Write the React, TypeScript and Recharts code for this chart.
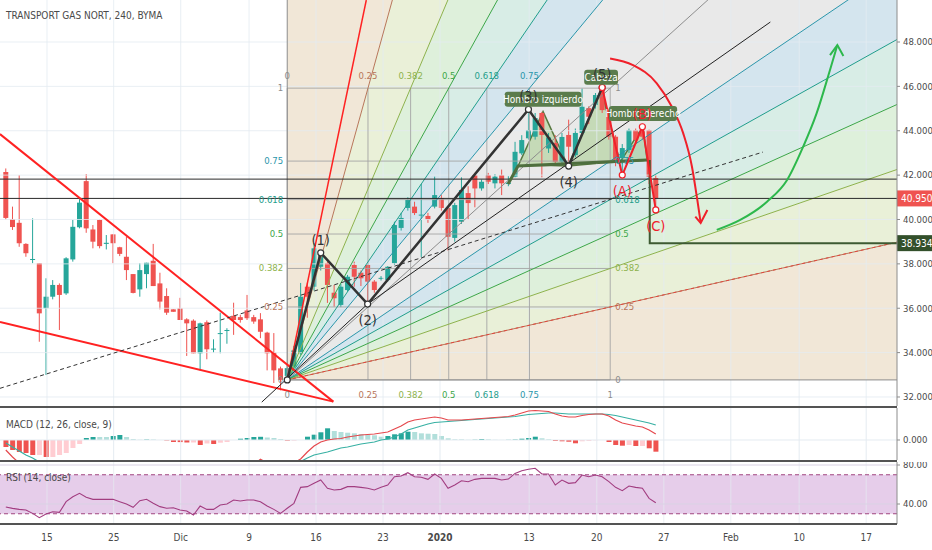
import React from "react";
import {
  ComposedChart,
  XAxis,
  YAxis,
  Bar,
  Line,
  Area,
  Scatter,
  ReferenceLine,
  ReferenceArea,
  Cell,
} from "recharts";

// velas de 4h, índice de barra 0..97
const OPEN = [
  42.14, 40.02, 39.85, 38.9, 38.18, 38.03, 36.0, 36.52, 37.05, 36.67,
  38.2, 39.65, 41.73, 39.55, 39.98, 38.9, 39.33, 38.75, 38.32, 37.54,
  36.85, 37.54, 38.14, 37.12, 36.55, 35.95, 36.0, 35.5, 35.44, 33.97,
  35.37, 34.15, 34.85, 35.0, 35.66, 35.6, 35.9, 35.6, 35.5, 34.9,
  34.0, 33.29, 32.95, 33.37, 33.97, 36.97, 36.97, 37.87, 38.03, 36.7,
  36.15, 36.82, 37.95, 37.6, 37.95, 37.2, 37.33, 37.27, 38.03, 39.62,
  40.52, 40.58, 40.18, 40.16, 40.58, 40.97, 40.52, 39.17, 39.9, 41.19,
  42.0, 41.4, 42.0, 41.63, 42.0, 41.6, 41.93, 42.98, 43.66, 43.73,
  44.8, 43.2, 43.45, 42.6, 43.81, 42.9, 43.9, 45.02, 45.16, 45.83,
  44.93, 43.73, 42.77, 43.13, 44.03, 44.03, 44.03, 41.87,
];
const HIGH = [
  42.3, 40.58, 42.0, 38.93, 40.05, 38.03, 37.35, 37.27, 37.12, 38.3,
  39.98, 40.92, 42.05, 39.75, 40.0, 39.3, 39.33, 38.77, 39.22, 37.54,
  38.03, 38.05, 38.9, 37.6, 36.9, 35.95, 36.47, 35.55, 35.5, 35.35,
  35.45, 34.6, 35.8, 35.1, 36.25, 35.7, 36.6, 35.7, 35.78, 34.94,
  34.88, 33.37, 33.5, 34.3, 37.14, 37.14, 38.94, 38.5, 38.1, 37.05,
  37.1, 37.5, 38.1, 37.7, 37.95, 37.27, 37.45, 37.9, 39.9, 40.3,
  41.0, 40.8, 41.6, 40.3, 41.93, 41.1, 40.55, 40.75, 41.9, 41.5,
  42.1, 41.8, 42.1, 42.05, 42.25, 41.95, 43.5, 43.8, 44.96, 44.8,
  44.85, 43.9, 43.8, 43.9, 44.5, 44.1, 45.9, 45.1, 45.7, 45.95,
  45.0, 43.8, 43.4, 44.1, 44.1, 44.18, 44.05, 42.0,
];
const LOW = [
  40.0, 39.53, 38.77, 38.32, 38.03, 34.49, 32.99, 36.4, 35.02, 36.6,
  38.1, 39.6, 39.4, 38.7, 38.7, 38.65, 38.03, 38.35, 37.27, 36.67,
  36.52, 36.9, 37.0, 35.95, 35.7, 35.84, 35.47, 33.85, 33.97, 33.2,
  33.7, 34.0, 33.97, 34.4, 34.8, 35.35, 35.47, 35.3, 34.65, 33.2,
  32.63, 32.3, 32.77, 33.3, 33.9, 35.57, 36.8, 37.7, 36.24, 36.07,
  36.05, 36.75, 36.97, 37.0, 36.19, 36.7, 37.25, 37.2, 37.95, 39.5,
  40.4, 40.2, 38.3, 39.85, 40.5, 40.4, 38.6, 39.0, 39.8, 40.0,
  40.55, 41.3, 41.6, 41.4, 41.1, 41.5, 41.9, 42.9, 43.6, 43.6,
  41.9, 43.0, 42.5, 42.5, 42.41, 42.8, 43.8, 44.3, 45.0, 44.8,
  43.6, 42.4, 42.0, 43.0, 43.4, 43.6, 41.6, 40.43,
];
const CLOSE = [
  40.07, 39.66, 38.93, 38.48, 38.22, 35.77, 36.52, 37.05, 36.6, 38.25,
  39.67, 40.76, 39.6, 39.0, 38.8, 38.95, 38.93, 38.45, 37.72, 36.69,
  37.72, 38.05, 37.0, 36.3, 35.8, 35.84, 35.47, 35.32, 33.97, 35.32,
  34.15, 34.18, 34.88, 35.02, 35.47, 35.47, 35.55, 35.4, 34.94, 33.97,
  33.2, 32.77, 33.3, 34.1, 36.52, 36.52, 38.7, 38.4, 37.05, 36.45,
  36.97, 37.42, 37.42, 37.35, 37.2, 36.82, 37.37, 37.87, 39.75, 40.07,
  40.88, 40.29, 40.22, 40.0, 41.1, 40.52, 39.22, 40.65, 41.33, 40.74,
  41.4, 41.7, 41.7, 41.93, 41.63, 41.66, 43.05, 43.58, 44.03, 44.57,
  43.81, 43.7, 42.6, 43.72, 43.28, 43.9, 45.08, 44.63, 45.61, 44.93,
  43.73, 42.68, 43.22, 44.03, 43.58, 43.73, 41.93, 40.95,
];

// MACD (12, 26, close, 9)
const MACD_LINE = [
  -0.333, -0.567, -0.767, -0.933, -1.1, -1.233, -1.367, -1.467, -1.533, -1.567,
  -1.533, -1.467, -1.4, -1.333, -1.267, -1.2, -1.133, -1.067, -1.033, -1.033,
  -1.033, -1.033, -1.033, -1.067, -1.1, -1.133, -1.167, -1.2, -1.233, -1.3,
  -1.3, -1.3, -1.267, -1.233, -1.167, -1.1, -1.0, -0.833, -0.64, -0.767,
  -0.8, -0.833, -0.833, -0.767, -0.633, -0.4, -0.2, -0.067, 0, 0.033,
  0.05, 0.1, 0.133, 0.167, 0.183, 0.2, 0.233, 0.267, 0.367, 0.467,
  0.6, 0.667, 0.7, 0.733, 0.767, 0.733, 0.667, 0.667, 0.667, 0.683,
  0.7, 0.717, 0.733, 0.75, 0.767, 0.783, 0.833, 0.9, 0.967, 0.983,
  0.967, 0.95, 0.867, 0.8, 0.767, 0.767, 0.817, 0.85, 0.867, 0.867,
  0.8, 0.667, 0.567, 0.517, 0.467, 0.433, 0.333, 0.2,
];
const MACD_SIGNAL = [
  -0.1, -0.233, -0.367, -0.5, -0.6, -0.733, -0.8, -0.9, -1.033, -1.133,
  -1.267, -1.333, -1.467, -1.433, -1.367, -1.3, -1.267, -1.233, -1.133, -1.067,
  -1.033, -1.033, -1.033, -1.067, -1.067, -1.067, -1.1, -1.117, -1.15, -1.133,
  -1.183, -1.167, -1.177, -1.167, -1.167, -1.143, -1.067, -0.967, -0.833, -0.85,
  -0.867, -0.867, -0.81, -0.743, -0.717, -0.6, -0.5, -0.45, -0.4, -0.333,
  -0.267, -0.233, -0.183, -0.133, -0.1, -0.067, 0, 0.033, 0.1, 0.2,
  0.333, 0.4, 0.467, 0.533, 0.583, 0.6, 0.617, 0.633, 0.65, 0.667,
  0.683, 0.7, 0.717, 0.733, 0.75, 0.767, 0.783, 0.817, 0.85, 0.867,
  0.883, 0.9, 0.9, 0.883, 0.867, 0.867, 0.867, 0.867, 0.867, 0.867,
  0.85, 0.817, 0.767, 0.717, 0.667, 0.617, 0.567, 0.5,
];
const MACD_HIST = [
  -0.233, -0.333, -0.4, -0.433, -0.5, -0.5, -0.567, -0.567, -0.5, -0.433,
  -0.267, -0.133, 0.067, 0.1, 0.1, 0.1, 0.133, 0.167, 0.1, 0.033,
  0.01, 0.017, 0.017, 0, -0.017, -0.067, -0.07, -0.083, -0.083, -0.167,
  -0.117, -0.133, -0.09, -0.067, 0, 0.043, 0.067, 0.1, 0.107, 0.083,
  0.067, 0.033, -0.023, -0.023, 0, 0.11, 0.177, 0.257, 0.39, 0.3,
  0.267, 0.243, 0.223, 0.2, 0.177, 0.157, 0.11, 0.133, 0.19, 0.223,
  0.277, 0.267, 0.223, 0.21, 0.2, 0.133, 0.057, 0.023, 0.023, 0.007,
  0.01, 0.033, 0.023, 0.007, 0.003, 0.007, 0.017, 0.043, 0.067, 0.11,
  0.057, 0.023, -0.033, -0.043, -0.057, -0.11, -0.043, -0.033, -0.01, 0,
  -0.067, -0.167, -0.19, -0.167, -0.2, -0.2, -0.277, -0.39,
];

// RSI (14, close)
const RSI = [
  37, 35.5, 34.5, 33.8, 30.4, 26, 29.7, 32, 31.4, 42.4,
  47.5, 51, 46.9, 44.8, 44.8, 44.8, 44.8, 42.4, 40, 36.6,
  43.4, 44.8, 40.7, 37.3, 35.6, 36.2, 33.8, 32.8, 28.7, 37.9,
  34.5, 34.5, 39, 40, 44.1, 43.1, 44.1, 44.1, 42.4, 37.9,
  34.5, 30.4, 35.6, 40.7, 57.1, 57.8, 61.2, 64.6, 56.1, 54.4,
  55, 57.8, 57.8, 57.1, 56.1, 54.4, 57.1, 59.5, 68, 68.7,
  72.1, 68, 67.4, 65.3, 70.8, 66.3, 56.1, 59.5, 63.9, 62.9,
  65.3, 66.3, 66.3, 66.3, 64.6, 65.6, 71.4, 74.2, 75.6, 76.6,
  70.8, 70.8, 59.5, 64.6, 61.2, 61.9, 69.7, 68, 69.7, 68,
  62.9, 57.1, 53.7, 58.5, 57.1, 56.1, 45.8, 41.3,
];

// eje temporal (posición en barras) y etiquetas
const TIME_TICKS = [6.15, 16.1, 26.1, 36.3, 46.3, 56.3, 64.8, 78.1, 88.2, 98.2, 108.2, 118.4, 128.4];
const TIME_LABELS = ["15", "25", "Dic", "9", "16", "23", "2020", "13", "20", "27", "Feb", "10", "17"];
const PRICE_TICKS = [32, 34, 36, 38, 40, 42, 44, 46, 48];
const MACD_TICKS = [0];
const RSI_TICKS = [40, 80];

// niveles horizontales
const RESISTANCE = 41.82;
const LAST_PRICE = 40.95;
const TARGET = 38.934;

// abanico de velocidad Fibonacci: origen y esquina (barra, precio)
const FAN_ORIGIN = [42, 32.77];
const FAN_CORNER = [90.2, 45.92];
const FAN_LEVELS = [0, 0.25, 0.382, 0.5, 0.618, 0.75, 1];

// ondas de Elliott
const WAVE_BARS = [42, 47, 54, 78, 84, 89];
const WAVE_PRICES = [32.77, 38.5, 36.19, 44.96, 42.41, 45.95];
const WAVE_NAMES = ["", "(1)", "(2)", "(3)", "(4)", "(5)"];
const ABC_BARS = [89, 92, 95, 97];
const ABC_PRICES = [45.95, 42.0, 44.18, 40.43];
const ABC_NAMES = ["", "(A)", "(B)", "(C)"];

// hombro-cabeza-hombro
const HS_BARS = [76.45, 80.18, 83.9, 88.84, 91.67, 95.1, 95.7];
const HS_TOPS = [42.41, 44.86, 42.41, 45.85, 42.59, 44.21, 42.68];
const HS_NECK = [42.41, 42.45, 42.41, 42.55, 42.59, 42.66, 42.68];
const HS_NAMES = ["", "Hombro izquierdo", "", "Cabeza", "", "Hombro derecho", ""];
const NECK_BARS = [74.96, 76.45, 95.7];
const NECK_PRICES = [41.6, 42.41, 42.68];
const TARGET_BARS = [96.1, 96.1, 140];
const TARGET_PRICES = [42.68, 38.934, 38.934];

// líneas de tendencia
const WEDGE_TOP_BARS = [-0.87, 48.88];
const WEDGE_TOP_PRICES = [43.85, 31.79];
const WEDGE_LOW_BARS = [-0.87, 48.88];
const WEDGE_LOW_PRICES = [35.38, 31.79];
const STEEP_BARS = [42, 53.8];
const STEEP_PRICES = [32.77, 49.89];
const DASHED_BARS = [-0.87, 113.0];
const DASHED_PRICES = [32.39, 43.04];
const CHANNEL_BARS = [38.2, 54, 114.1];
const CHANNEL_PRICES = [31.77, 36.19, 48.9];

// flechas curvas
const DOWN_ARC_BARS = [90.18, 93.6, 97.15, 99.4, 101.1, 102.4, 103.2, 103.7];
const DOWN_ARC_PRICES = [47.26, 46.96, 46.14, 45.08, 43.88, 42.38, 40.88, 39.86];
const DOWN_HEAD_BARS = [102.9, 103.7, 104.7];
const DOWN_HEAD_PRICES = [40.13, 39.84, 40.43];
const UP_ARC_BARS = [106.1, 109.6, 113.6, 116.6, 119.0, 121.0, 123.0, 124.1];
const UP_ARC_PRICES = [39.53, 39.98, 40.8, 41.78, 43.28, 44.78, 46.74, 47.86];
const UP_HEAD_BARS = [123.0, 124.1, 125.0];
const UP_HEAD_PRICES = [47.41, 47.86, 47.37];

// ---- estilo ----
const FONT = "'Liberation Sans Narrow', 'Arial Narrow', 'DejaVu Sans Condensed', 'Liberation Sans', sans-serif";
const UP = "#26a69a";
const DOWN = "#ef5350";
const GRID = "#e4ebf1";
const AXIS = "#8c8c8c";
const TEXT = "#4a4a4a";
const X_DOMAIN: [number, number] = [-0.866, 133.0];
const LEVEL_COLORS = ["#8c8c8c", "#b8765a", "#8db24c", "#3ca648", "#1f9d8b", "#2a95aa", "#8c8c8c"];
const BAND_COLORS = [
  "#f1e7d7", "#eaf0d8", "#def0db", "#d8ede6", "#d4e5ee", "#eaeaea",
  "#e9e9e9", "#d4e5ee", "#d8ede6", "#def0db", "#e9f0d8", "#f1e7d7",
];
const FAR = 260;
const SKY = 1000;

const pts = (bars: number[], prices: number[]) => bars.map((i, k) => ({ i, v: prices[k] }));

const candles = OPEN.map((o, i) => ({ i, o, h: HIGH[i], l: LOW[i], c: CLOSE[i], range: [LOW[i], HIGH[i]] }));
const macdRows = MACD_LINE.map((m, i) => ({ i, macd: m, sig: MACD_SIGNAL[i], hist: MACD_HIST[i] }));
const rsiRows = RSI.map((r, i) => ({ i, rsi: r }));

// geometría del abanico
const [F_I0, F_P0] = FAN_ORIGIN;
const [F_I1, F_P1] = FAN_CORNER;
const dI = F_I1 - F_I0;
const dP = F_P1 - F_P0;
const timeRayFar = (t: number) => (t === 0 ? SKY : F_P0 + (dP * (FAR - F_I0)) / (t * dI));
const priceRayFar = (q: number) => F_P0 + (q * dP * (FAR - F_I0)) / dI;
const bounds = [
  ...FAN_LEVELS.slice(0, 6).map((t, k) => ({ far: timeRayFar(t), color: LEVEL_COLORS[k], vertical: t === 0 })),
  { far: priceRayFar(1), color: LEVEL_COLORS[6], vertical: false },
  ...FAN_LEVELS.slice(0, 6)
    .map((q, k) => ({ far: priceRayFar(q), color: LEVEL_COLORS[k], vertical: false }))
    .reverse(),
];
const bands = bounds.slice(0, -1).map((upper, k) => [
  { i: F_I0, r: [F_P0, upper.vertical ? SKY : F_P0] },
  { i: FAR, r: [bounds[k + 1].far, upper.far] },
]);

// la etiqueta superior "1" queda tapada por el rótulo "Cabeza" en el original
const fanLabels = [
  ...FAN_LEVELS.slice(0, 6).map((t, k) => ({ i: F_I0 + t * dI, v: F_P1, text: String(t), color: LEVEL_COLORS[k], kind: "top" })),
  ...FAN_LEVELS.map((t, k) => ({ i: F_I0 + t * dI, v: F_P0, text: String(t), color: LEVEL_COLORS[k], kind: "bottom" })),
  ...FAN_LEVELS.map((q, k) => ({ i: F_I0, v: F_P0 + q * dP, text: String(q), color: LEVEL_COLORS[k], kind: "left" })),
  ...FAN_LEVELS.map((q, k) => ({ i: F_I1, v: F_P0 + q * dP, text: String(q), color: LEVEL_COLORS[k], kind: "right" })),
];
const waveLabels = [
  ...WAVE_BARS.map((i, k) => ({
    i, v: WAVE_PRICES[k], text: WAVE_NAMES[k], color: "#333",
    kind: k > 0 && WAVE_PRICES[k] > WAVE_PRICES[k - 1] ? "up" : "down",
  })),
  ...ABC_BARS.map((i, k) => ({
    i, v: ABC_PRICES[k], text: ABC_NAMES[k], color: "#f0202a",
    kind: k > 0 && ABC_PRICES[k] > ABC_PRICES[k - 1] ? "up" : "down",
  })),
].filter((d) => d.text);
const hsLabels = HS_BARS.map((i, k) => ({ i, v: HS_TOPS[k], text: HS_NAMES[k], color: "#fff", kind: "box" })).filter(
  (d) => d.text
);
const hsArea = HS_BARS.map((i, k) => ({ i, r: [HS_NECK[k], HS_TOPS[k]] }));

const Candle = (props: any) => {
  const { x, y, width, height, payload } = props;
  if (x == null || y == null || !payload) return null;
  const cx = x + width / 2;
  const top = Math.min(y, y + height);
  const span = Math.abs(height);
  const { o, h, l, c } = payload;
  const color = c >= o ? UP : DOWN;
  const k = h > l ? span / (h - l) : 0;
  const yOf = (v: number) => top + (h - v) * k;
  const bTop = yOf(Math.max(o, c));
  const bBot = yOf(Math.min(o, c));
  return (
    <g>
      <line x1={cx} x2={cx} y1={top} y2={top + span} stroke={color} strokeWidth={1} />
      <rect x={cx - 2.5} y={bTop} width={5} height={Math.max(1, bBot - bTop)} fill={color} />
    </g>
  );
};

const TextMark = (props: any) => {
  const { cx, cy, payload } = props;
  if (cx == null || cy == null || !payload) return null;
  const { text, color, kind } = payload;
  if (kind === "box") {
    const w = text.length * 4.3 + 8;
    return (
      <g>
        <rect x={cx - w / 2} y={cy - 20} width={w} height={15} rx={3} fill="#5a7c4c" />
        <text x={cx} y={cy - 9} textAnchor="middle" fontSize={10} fill={color}>
          {text}
        </text>
      </g>
    );
  }
  if (kind === "up" || kind === "down") {
    return (
      <text x={cx} y={kind === "up" ? cy - 8 : cy + 21} textAnchor="middle" fontSize={14.5} fill={color}>
        {text}
      </text>
    );
  }
  const pos: Record<string, [number, number, string]> = {
    top: [0, -9, "middle"],
    bottom: [0, 18, "middle"],
    left: [-4, 3, "end"],
    right: [5, 3, "start"],
  };
  const [dx, dy, anchor] = pos[kind];
  return (
    <text x={cx + dx} y={cy + dy} textAnchor={anchor as any} fontSize={9.5} fill={color}>
      {text}
    </text>
  );
};

const PriceTag = (props: any) => {
  const { viewBox, text, bg } = props;
  if (!viewBox) return null;
  const x = viewBox.x + viewBox.width;
  const y = viewBox.y;
  return (
    <g>
      <rect x={x} y={y - 8} width={35} height={16} fill={bg} />
      <text x={x + 4} y={y + 3.5} fontSize={10} fill="#fff">
        {text}
      </text>
    </g>
  );
};

const TimeTick = (props: any) => {
  const { x, y, payload } = props;
  const label = TIME_LABELS[TIME_TICKS.indexOf(payload.value)] ?? "";
  return (
    <text x={x} y={y + 9} textAnchor="middle" fontSize={10} fill={TEXT} fontWeight={label === "2020" ? 700 : 400}>
      {label}
    </text>
  );
};

const seg = (key: string, data: any[], stroke: string, width = 1, extra: any = {}) => (
  <Line
    key={key}
    data={data}
    dataKey="v"
    type="linear"
    stroke={stroke}
    strokeWidth={width}
    dot={false}
    activeDot={false}
    isAnimationActive={false}
    legendType="none"
    {...extra}
  />
);

const rightAxis = (domain: [number, number], ticks: number[], digits: number) => (
  <YAxis
    orientation="right"
    type="number"
    domain={domain}
    allowDataOverflow
    ticks={ticks}
    interval={0}
    width={35}
    tickFormatter={(v: number) => v.toFixed(digits)}
    tick={{ fill: TEXT, fontSize: 9.5 }}
    tickSize={3}
    tickMargin={3}
    tickLine={{ stroke: AXIS }}
    axisLine={{ stroke: AXIS }}
  />
);

function MainPane() {
  return (
    <ComposedChart width={932} height={406} data={candles} margin={{ top: 0, right: 0, bottom: 0, left: 0 }}>
      <XAxis dataKey="i" type="number" domain={X_DOMAIN} allowDataOverflow hide />
      {rightAxis([31.594, 49.893], PRICE_TICKS, 3)}

      {bands.map((d, k) => (
        <Area
          key={`band-${k}`}
          data={d}
          dataKey="r"
          type="linear"
          stroke="none"
          fill={BAND_COLORS[k]}
          fillOpacity={1}
          dot={false}
          activeDot={false}
          isAnimationActive={false}
          legendType="none"
        />
      ))}

      {TIME_TICKS.map((t) => (
        <ReferenceLine key={`vx-${t}`} x={t} stroke={GRID} strokeOpacity={0.8} />
      ))}
      {PRICE_TICKS.map((p) => (
        <ReferenceLine key={`hy-${p}`} y={p} stroke={GRID} strokeOpacity={0.8} />
      ))}

      {FAN_LEVELS.map((q) =>
        seg(`fh-${q}`, pts([F_I0, F_I1], [F_P0 + q * dP, F_P0 + q * dP]), "#a5a5a5", 0.9)
      )}
      {FAN_LEVELS.map((t) =>
        seg(`fv-${t}`, pts([F_I0 + t * dI, F_I0 + t * dI], [F_P0, F_P1]), "#a5a5a5", 0.9)
      )}
      {bounds.map((b, k) =>
        seg(
          `ray-${k}`,
          b.vertical ? pts([F_I0, F_I0], [F_P0, SKY]) : pts([F_I0, FAR], [F_P0, b.far]),
          b.color,
          1
        )
      )}
      {seg("ray-q25-dash", pts([F_I0, FAR], [F_P0, priceRayFar(0.25)]), "#e2463c", 1, { strokeDasharray: "3 3" })}

      <ReferenceLine y={RESISTANCE} stroke="#2a2a2a" strokeWidth={1} />
      <ReferenceLine
        y={LAST_PRICE}
        stroke="#2a2a2a"
        strokeWidth={1}
        label={<PriceTag text={LAST_PRICE.toFixed(3)} bg="#ef5350" />}
      />
      <ReferenceLine y={TARGET} stroke="none" label={<PriceTag text={TARGET.toFixed(3)} bg="#33502b" />} />

      {seg("wedge-top", pts(WEDGE_TOP_BARS, WEDGE_TOP_PRICES), "#ff2222", 2)}
      {seg("wedge-low", pts(WEDGE_LOW_BARS, WEDGE_LOW_PRICES), "#ff2222", 2)}
      {seg("steep", pts(STEEP_BARS, STEEP_PRICES), "#ff2222", 1.5)}
      {seg("dashed", pts(DASHED_BARS, DASHED_PRICES), "#333", 1, { strokeDasharray: "4 3" })}
      {seg("channel", pts(CHANNEL_BARS, CHANNEL_PRICES), "#222", 1)}

      <Bar dataKey="range" barSize={5} isAnimationActive={false} shape={(p: any) => <Candle {...p} />} legendType="none" />

      <Area
        data={hsArea}
        dataKey="r"
        type="linear"
        stroke="#56773f"
        strokeWidth={1.5}
        fill="#8fc26b"
        fillOpacity={0.4}
        dot={false}
        activeDot={false}
        isAnimationActive={false}
        legendType="none"
      />
      {seg("neck", pts(NECK_BARS, NECK_PRICES), "#4e6e3e", 3)}
      {seg("target", pts(TARGET_BARS, TARGET_PRICES), "#3d5a32", 2)}

      {seg("waves", pts(WAVE_BARS, WAVE_PRICES), "#333", 2.5, {
        dot: { r: 3, fill: "#fff", stroke: "#333", strokeWidth: 1.2 },
      })}
      {seg("abc", pts(ABC_BARS, ABC_PRICES), "#f0202a", 2, {
        dot: { r: 3, fill: "#fff", stroke: "#f0202a", strokeWidth: 1.2 },
      })}

      {seg("down-arc", pts(DOWN_ARC_BARS, DOWN_ARC_PRICES), "#f0202a", 2, { type: "monotone" })}
      {seg("down-head", pts(DOWN_HEAD_BARS, DOWN_HEAD_PRICES), "#f0202a", 2)}
      {seg("up-arc", pts(UP_ARC_BARS, UP_ARC_PRICES), "#2db84c", 2, { type: "monotone" })}
      {seg("up-head", pts(UP_HEAD_BARS, UP_HEAD_PRICES), "#2db84c", 2)}

      <Scatter data={fanLabels} dataKey="v" shape={(p: any) => <TextMark {...p} />} isAnimationActive={false} legendType="none" />
      <Scatter data={hsLabels} dataKey="v" shape={(p: any) => <TextMark {...p} />} isAnimationActive={false} legendType="none" />
      <Scatter data={waveLabels} dataKey="v" shape={(p: any) => <TextMark {...p} />} isAnimationActive={false} legendType="none" />
    </ComposedChart>
  );
}

const histColor = (k: number) => {
  const v = MACD_HIST[k];
  const prev = k > 0 ? MACD_HIST[k - 1] : 0;
  if (v >= 0) return v > prev ? "#26a69a" : "#b2dfdb";
  return v < prev ? "#ef5350" : "#ffcdd2";
};

function MacdPane() {
  return (
    <ComposedChart width={932} height={52} data={macdRows} margin={{ top: 0, right: 0, bottom: 0, left: 0 }}>
      <XAxis dataKey="i" type="number" domain={X_DOMAIN} allowDataOverflow hide />
      {rightAxis([-0.667, 1.067], MACD_TICKS, 3)}
      {TIME_TICKS.map((t) => (
        <ReferenceLine key={`mx-${t}`} x={t} stroke={GRID} />
      ))}
      <ReferenceLine y={0} stroke={GRID} />
      <Bar dataKey="hist" barSize={5} isAnimationActive={false} legendType="none">
        {macdRows.map((r, k) => (
          <Cell key={r.i} fill={histColor(k)} />
        ))}
      </Bar>
      <Line dataKey="sig" type="linear" stroke="#37b0a3" strokeWidth={1.2} dot={false} activeDot={false} isAnimationActive={false} />
      <Line dataKey="macd" type="linear" stroke="#e5484d" strokeWidth={1.2} dot={false} activeDot={false} isAnimationActive={false} />
    </ComposedChart>
  );
}

function RsiPane() {
  return (
    <ComposedChart width={932} height={88} data={rsiRows} margin={{ top: 0, right: 0, bottom: 0, left: 0 }}>
      <XAxis
        dataKey="i"
        type="number"
        domain={X_DOMAIN}
        allowDataOverflow
        ticks={TIME_TICKS}
        interval={0}
        height={26}
        tick={<TimeTick />}
        tickLine={false}
        axisLine={false}
      />
      {rightAxis([19.5, 83.08], RSI_TICKS, 2)}
      <ReferenceArea y1={30} y2={70} fill="#e6cdea" fillOpacity={1} stroke="none" />
      {TIME_TICKS.map((t) => (
        <ReferenceLine key={`rx-${t}`} x={t} stroke={GRID} strokeOpacity={0.7} />
      ))}
      {RSI_TICKS.map((p) => (
        <ReferenceLine key={`ry-${p}`} y={p} stroke="#d9d2e4" />
      ))}
      <ReferenceLine y={70} stroke="#a0457f" strokeDasharray="4 3" />
      <ReferenceLine y={30} stroke="#a0457f" strokeDasharray="4 3" />
      <Line dataKey="rsi" type="linear" stroke="#a23d80" strokeWidth={1.1} dot={false} activeDot={false} isAnimationActive={false} />
    </ComposedChart>
  );
}

const sep = (top: number) => (
  <div style={{ position: "absolute", left: 0, top, width: 897, height: 2, background: "#545454" }} />
);

const paneText = (top: number, text: string, size = 10) => (
  <div style={{ position: "absolute", left: 6, top, fontSize: size, color: TEXT, whiteSpace: "nowrap", lineHeight: 1 }}>
    {text}
  </div>
);

export default function App() {
  return (
    <div
      style={{
        position: "absolute",
        left: 0,
        top: 0,
        width: 932,
        height: 550,
        background: "#fff",
        fontFamily: FONT,
        overflow: "hidden",
      }}
    >
      <div style={{ position: "absolute", left: 0, top: 0 }}>
        <MainPane />
      </div>
      <div style={{ position: "absolute", left: 0, top: 408 }}>
        <MacdPane />
      </div>
      <div style={{ position: "absolute", left: 0, top: 462 }}>
        <RsiPane />
      </div>
      {sep(406)}
      {sep(460)}
      {sep(523)}
      {paneText(11, "TRANSPORT GAS NORT, 240, BYMA", 10)}
      {paneText(420, "MACD (12, 26, close, 9)")}
      {paneText(473, "RSI (14, close)")}
    </div>
  );
}
